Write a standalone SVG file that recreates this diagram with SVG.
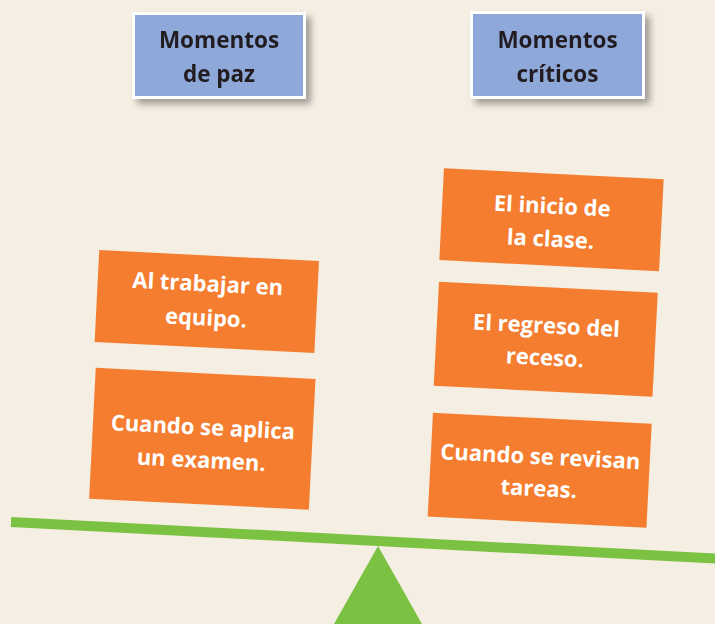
<svg xmlns="http://www.w3.org/2000/svg" width="715" height="624" viewBox="0 0 715 624">
  <defs>
    <filter id="shadow" x="-20%" y="-20%" width="150%" height="160%">
      <feGaussianBlur in="SourceAlpha" stdDeviation="3.5"/>
      <feOffset dx="5" dy="5" result="b"/>
      <feComponentTransfer><feFuncA type="linear" slope="0.35"/></feComponentTransfer>
      <feMerge><feMergeNode/><feMergeNode in="SourceGraphic"/></feMerge>
    </filter>
  </defs>
  <style>
    .head rect { fill: #8EA9D9; stroke: #FFFFFF; stroke-width: 3; }
    .head text { font-family: "Open Sans", "Liberation Sans", sans-serif; font-weight: 700; font-size: 22.5px; fill: #231F20; text-anchor: middle; }
    .card rect { fill: #F47D30; }
    .card text { font-family: "Open Sans", "Liberation Sans", sans-serif; font-weight: 700; font-size: 22px; fill: #FFFFFF; text-anchor: middle; }
    .support { fill: #7BC142; }
    .beam { stroke: #7BC142; stroke-width: 10; fill: none; }
  </style>
  <rect width="715" height="624" fill="#F5EEE2"/>

  <g id="scale">
    <polygon class="support" points="378,546 325,640 431,640"/>
    <line class="beam" x1="11" y1="522" x2="730" y2="559.3"/>
  </g>

  <g id="head-paz" class="head" filter="url(#shadow)">
    <rect x="133.5" y="13.5" width="171" height="84"/>
    <text x="219" y="48">Momentos</text>
    <text x="219" y="82">de paz</text>
  </g>

  <g id="head-criticos" class="head" filter="url(#shadow)">
    <rect x="471.5" y="12.5" width="172" height="85"/>
    <text x="557.5" y="48">Momentos</text>
    <text x="557.5" y="82">críticos</text>
  </g>

  <g id="card-equipo" class="card" transform="translate(206.8,301.5) rotate(2.9)">
    <rect x="-110" y="-46" width="220" height="92"/>
    <text x="0" y="-10">Al trabajar en</text>
    <text x="0" y="24">equipo.</text>
  </g>

  <g id="card-examen" class="card" transform="translate(202.3,438.8) rotate(2.9)">
    <rect x="-110" y="-65.5" width="220" height="131"/>
    <text x="0" y="-4">Cuando se aplica</text>
    <text x="0" y="29">un examen.</text>
  </g>

  <g id="card-inicio" class="card" transform="translate(551.5,219.7) rotate(2.9)">
    <rect x="-110" y="-46" width="220" height="92"/>
    <text x="0" y="-6">El inicio de</text>
    <text x="0" y="27">la clase.</text>
  </g>

  <g id="card-regreso" class="card" transform="translate(545.75,339.25) rotate(2.9)">
    <rect x="-109.5" y="-52" width="219" height="104"/>
    <text x="0" y="-6">El regreso del</text>
    <text x="0" y="26">receso.</text>
  </g>

  <g id="card-tareas" class="card" transform="translate(539.7,470.2) rotate(2.9)">
    <rect x="-109.5" y="-52" width="219" height="104"/>
    <text x="0" y="-6">Cuando se revisan</text>
    <text x="0" y="26">tareas.</text>
  </g>
</svg>
